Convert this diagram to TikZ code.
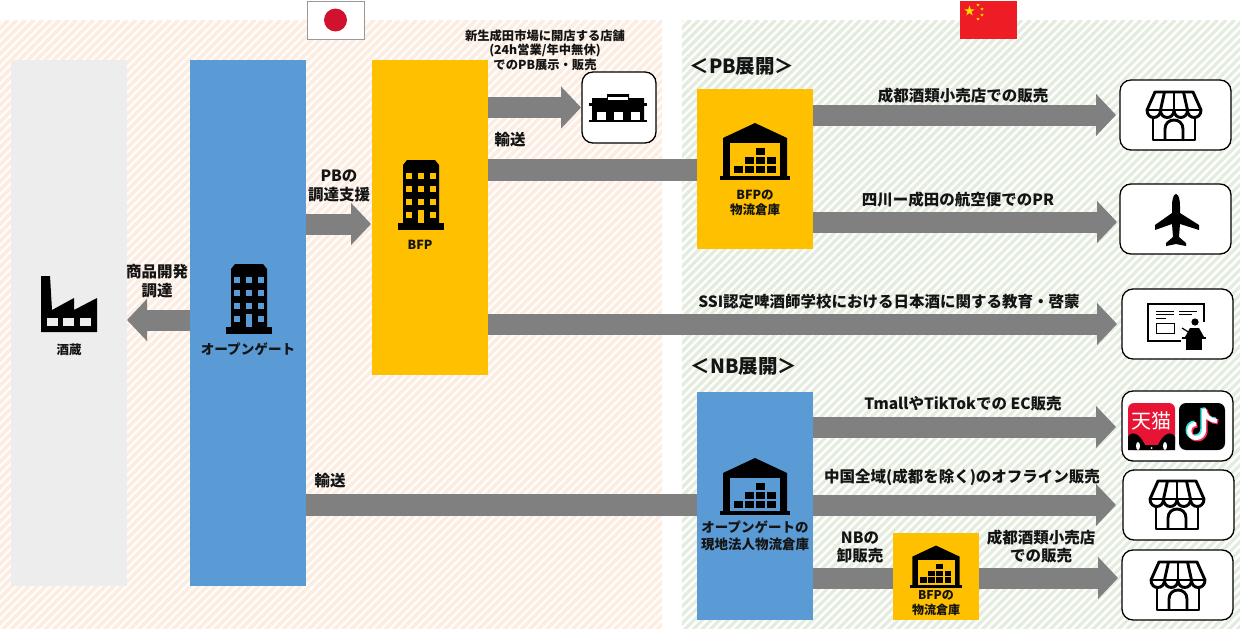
\documentclass[tikz,border=0pt]{standalone}
\usepackage{fontspec}
\setmainfont{Noto Sans CJK JP}
\usepackage{tikz}
\usetikzlibrary{shapes,arrows.meta}
\definecolor{peachline}{RGB}{252,236,226}
\definecolor{peachback}{RGB}{255,253,250}
\definecolor{greenline}{RGB}{228,236,224}
\definecolor{greenback}{RGB}{254,255,253}
\definecolor{flowgray}{RGB}{128,128,128}
\definecolor{breweryback}{RGB}{237,237,237}
\definecolor{gateblue}{RGB}{91,155,213}
\definecolor{bfpyellow}{RGB}{255,192,0}
\definecolor{tmallred}{RGB}{232,20,52}
\definecolor{flagred}{RGB}{238,28,37}
\definecolor{staryellow}{RGB}{255,222,0}
\definecolor{tiktokcyan}{RGB}{60,225,230}
\definecolor{tiktokred}{RGB}{250,40,85}
\definecolor{inkblack}{RGB}{20,20,20}
\tikzset{
  block/.style={draw=none,inner sep=0pt,outer sep=0pt},
  iconbox/.style={draw=black,fill=white,line width=1.3pt,rounded corners=11pt,inner sep=0pt,outer sep=0pt},
  labmid/.style={text=inkblack,align=center,inner sep=0pt,font=\fontsize{15.5}{19}\selectfont\bfseries},
  labsmall/.style={text=inkblack,align=center,inner sep=0pt,font=\fontsize{12.5}{15}\selectfont\bfseries},
  labhead/.style={text=inkblack,align=center,inner sep=0pt,font=\fontsize{19.5}{22}\selectfont\bfseries},
  flow/.style={draw=flowgray,line width=21pt,-{Triangle[length=20pt,width=41pt]}},
  flowbar/.style={draw=flowgray,line width=22pt},
  pics/officeicon/.style={code={
    \fill[black] (-23,28) rectangle (23,35);
    \fill[black] (-18,29) -- (-18,-30) -- (-14,-35) -- (14,-35) -- (18,-30) -- (18,29) -- cycle;
    \foreach \wx in {-12,0,12} \foreach \wy in {-19,-6,7} \fill[#1] (\wx-3,\wy-3) rectangle (\wx+3,\wy+3);
    \fill[#1] (-15,17) rectangle (-9,23);
    \fill[#1] (9,17) rectangle (15,23);
    \fill[#1] (-3,15) rectangle (3,28);
  }},
  pics/warehouseicon/.style={code={
    \fill[black] (-35,24) rectangle (35,28);
    \fill[black] (-32,25) -- (-32,-14) -- (0,-29) -- (32,-14) -- (32,25) -- cycle;
    \fill[#1] (-25,-9) rectangle (25,24);
    \foreach \bx in {-17,-6,5,16} \fill[black] (\bx-4.5,14) rectangle (\bx+4.5,21);
    \foreach \bx in {-6,5,16} \fill[black] (\bx-4.5,5) rectangle (\bx+4.5,12);
    \fill[black] (0.5,-4) rectangle (9.5,3);
  }},
  pics/storeicon/.style={code={
    \draw[line width=2.9pt,line join=round] (-21,0) -- (-21,24) -- (21,24) -- (21,0);
    \draw[line width=2.9pt,line join=round] (-9,24) -- (-9,13) .. controls (-9,1) and (9,1) .. (9,13) -- (9,24);
    \draw[line width=2.9pt,line join=round,fill=white] (-19,-24) -- (19,-24) -- (27,-6) .. controls (27,4) and (13.5,4) .. (13.5,-6) .. controls (13.5,4) and (0,4) .. (0,-6) .. controls (0,4) and (-13.5,4) .. (-13.5,-6) .. controls (-13.5,4) and (-27,4) .. (-27,-6) -- cycle;
    \draw[line width=2.9pt] (-9.5,-24) -- (-13.5,-6);
    \draw[line width=2.9pt] (0,-24) -- (0,-6);
    \draw[line width=2.9pt] (9.5,-24) -- (13.5,-6);
    \draw[line width=2.9pt] (-27,-6) -- (27,-6);
  }}
}
\begin{document}
\begin{tikzpicture}[x=1pt,y=-1pt]
\useasboundingbox (0,0) rectangle (1240,629);
\fill[peachback] (0,20) rectangle (662,629);
\fill[greenback] (682,20) rectangle (1240,629);
\begin{scope}
\clip (0,20) rectangle (662,629);
\foreach \s in {0,8.5,...,1300} \draw[peachline,line width=3.2pt] (\s,20) -- ++(-620,620);
\end{scope}
\begin{scope}
\clip (682,20) rectangle (1240,629);
\foreach \s in {682,690.5,...,1900} \draw[greenline,line width=3.2pt] (\s,20) -- ++(-620,620);
\end{scope}

\node[block,fill=breweryback,minimum width=116pt,minimum height=526pt] (brewery) at (69,323) {};
\node[block,fill=gateblue,minimum width=116pt,minimum height=526pt] (opengate) at (248,323) {};
\node[block,fill=bfpyellow,minimum width=116pt,minimum height=315pt] (bfp) at (430,217.5) {};
\node[block,fill=bfpyellow,minimum width=116pt,minimum height=160pt] (bfpwh) at (755,169) {};
\node[block,fill=gateblue,minimum width=116pt,minimum height=228pt] (gatewh) at (755,506) {};
\node[block,fill=bfpyellow,minimum width=86pt,minimum height=87pt] (bfpwhsub) at (936,576.5) {};

\node[iconbox,minimum width=74pt,minimum height=71pt] (market) at (619,107.5) {};
\node[iconbox,minimum width=111pt,minimum height=70pt] (storea) at (1175.5,115) {};
\node[iconbox,minimum width=111pt,minimum height=70pt] (plane) at (1175.5,219) {};
\node[iconbox,minimum width=111pt,minimum height=70pt] (school) at (1177.5,324) {};
\node[iconbox,minimum width=111pt,minimum height=70pt] (apps) at (1177.5,426) {};
\node[iconbox,minimum width=111pt,minimum height=70pt] (storeb) at (1178.5,505) {};
\node[iconbox,minimum width=111pt,minimum height=70pt] (storec) at (1177.5,585) {};

\node[block,draw=gray!80,line width=.8pt,fill=white,minimum width=57pt,minimum height=38pt] (japan) at (335.5,20) {};
\node[block,fill=flagred,minimum width=57pt,minimum height=38pt] (china) at (988.5,20) {};
\fill[tmallred!90!black] (japan.center) circle [radius=11.5];
\node[star,star points=5,star point ratio=2.6,fill=staryellow,inner sep=0pt,minimum size=11pt] (starbig) at (969.5,11) {};
\node[star,star points=5,star point ratio=2.6,fill=staryellow,inner sep=0pt,minimum size=3.5pt] (stara) at (978,5) {};
\node[star,star points=5,star point ratio=2.6,fill=staryellow,inner sep=0pt,minimum size=3.5pt] (starb) at (982,9) {};
\node[star,star points=5,star point ratio=2.6,fill=staryellow,inner sep=0pt,minimum size=3.5pt] (starc) at (982,15) {};
\node[star,star points=5,star point ratio=2.6,fill=staryellow,inner sep=0pt,minimum size=3.5pt] (stard) at (978,19) {};

\draw[flow] (opengate.west |- 0,320) -- (brewery.east |- 0,320);
\draw[flow,shorten >=1pt] (opengate.east |- 0,224) -- (bfp.west |- 0,224);
\draw[flow,shorten >=1pt] (bfp.east |- market.west) -- (market.west);
\draw[flowbar] (bfp.east |- 0,170) -- (bfpwh.west |- 0,170);
\draw[flow,shorten >=4pt] (bfpwh.east |- storea.west) -- (storea.west);
\draw[flow,shorten >=3pt] (bfpwh.east |- 0,222) -- (plane.west |- 0,222);
\draw[flow,shorten >=5pt] (bfp.east |- school.west) -- (school.west);
\draw[flow,shorten >=6pt] (gatewh.east |- 0,427) -- (apps.west |- 0,427);
\draw[flowbar] (opengate.east |- 0,505) -- (gatewh.west |- 0,505);
\draw[flow,shorten >=7pt] (gatewh.east |- storeb.west) -- (storeb.west);
\draw[flow,draw=flowgray,-] (gatewh.east |- 0,578) -- (bfpwhsub.west |- 0,578);
\draw[flow,shorten >=4pt] (bfpwhsub.east |- 0,578) -- (storec.west |- 0,578);

\pic at (249,299) {officeicon={gateblue}};
\pic at (421,195) {officeicon={bfpyellow}};
\pic at (755,152) {warehouseicon={bfpyellow}};
\pic at (755,487) {warehouseicon={gateblue}};
\pic[scale=.74] at (936,567) {warehouseicon={bfpyellow}};
\pic at (1174,116) {storeicon};
\pic at (1177,505) {storeicon};
\pic at (1178,586) {storeicon};

\fill[black] (41,332) -- (41,276) -- (50,276) -- (52,310) -- (74,298) -- (74,310) -- (97,298) -- (97,332) -- cycle;
\foreach \wx in {52,68,85} \fill[breweryback] (\wx-5.5,318) rectangle (\wx+5.5,326);

\fill[black] (589,120) rectangle (647,122);
\fill[black] (592,120) -- (592,98) -- (607,98) -- (607,94) -- (629,94) -- (629,98) -- (644,98) -- (644,120) -- cycle;
\fill[black] (589,103) rectangle (647,106);
\fill[white] (608,97) rectangle (628,100);
\foreach \wx in {601,618,635} \fill[white] (\wx-4.5,112) rectangle (\wx+4.5,120);

\fill[black] (1176,194) .. controls (1179,194) and (1180,201) .. (1180,206) -- (1180,213) -- (1199,225) -- (1199,230) -- (1180,224) -- (1179,237) -- (1186,243) -- (1186,246) -- (1176,244) -- (1166,246) -- (1166,243) -- (1173,237) -- (1172,224) -- (1155,230) -- (1155,225) -- (1172,213) -- (1172,206) .. controls (1172,201) and (1173,194) .. (1176,194) -- cycle;

\draw[line width=1.6pt] (1204,322) -- (1204,304) -- (1148,304) -- (1148,341) -- (1181,341);
\foreach \lx/\ly/\lw in {1156/311/18,1156/314/18,1156/318/10,1179/311/18,1179/314/13} \draw[line width=1pt] (\lx,\ly) -- ++(\lw,0);
\draw[line width=1pt] (1156,323) rectangle (1174,333);
\fill[black] (1195,322) circle [radius=3.6];
\fill[black] (1185,337) -- (1190,328) -- (1199,328) -- (1204,337) -- cycle;
\draw[line width=1.2pt] (1182,328) -- (1190,333);
\fill[black] (1182,337) rectangle (1206,339);
\fill[black] (1186,339) rectangle (1202,350);

\fill[tmallred,rounded corners=6pt] (1128,403) rectangle (1175,450);
\fill[black] (1128,450) -- (1128,437) .. controls (1131,431) and (1139,432) .. (1145,445) -- (1158,445) .. controls (1164,432) and (1172,431) .. (1175,437) -- (1175,450) -- cycle;
\fill[white] (1138,446) ellipse [x radius=2,y radius=4];
\fill[white] (1165,446) ellipse [x radius=2,y radius=4];
\fill[white] (1151.5,448) circle [radius=1];
\node[inner sep=0pt,text=white,font=\fontsize{20}{22}\selectfont] (tmalltext) at (1151.5,421) {天猫};
\fill[black,rounded corners=7pt] (1179,403) rectangle (1225,450);
\draw[tiktokcyan,line width=5pt,line join=bevel,xshift=-1.2pt,yshift=1pt] (1196,424) .. controls (1187,424) and (1187,438) .. (1196,438) .. controls (1201,438) and (1204,434) .. (1204,430) -- (1204,409) .. controls (1205,416) and (1210,421) .. (1217,421);
\draw[tiktokred,line width=5pt,line join=bevel,xshift=1.2pt,yshift=-1pt] (1196,424) .. controls (1187,424) and (1187,438) .. (1196,438) .. controls (1201,438) and (1204,434) .. (1204,430) -- (1204,409) .. controls (1205,416) and (1210,421) .. (1217,421);
\draw[white,line width=4.2pt,line join=bevel] (1196,424) .. controls (1187,424) and (1187,438) .. (1196,438) .. controls (1201,438) and (1204,434) .. (1204,430) -- (1204,409) .. controls (1205,416) and (1210,421) .. (1217,421);

\node[labsmall] (brewerylab) at (69,350) {酒蔵};
\node[labsmall,font=\fontsize{13.6}{15}\selectfont\bfseries] (gatelab) at (248,349) {オープンゲート};
\node[labsmall] (bfplab) at (420,245) {BFP};
\node[labsmall] (bfpwhlab) at (755,203) {BFPの\\物流倉庫};
\node[labsmall,font=\fontsize{13.5}{17}\selectfont\bfseries] (gatewhlab) at (755,536) {オープンゲートの\\現地法人物流倉庫};
\node[labsmall,font=\fontsize{12}{14.5}\selectfont\bfseries] (bfpwhsublab) at (936,603) {BFPの\\物流倉庫};
\node[labsmall,font=\fontsize{12.3}{14.5}\selectfont\bfseries] (marketlab) at (545,50) {新生成田市場に開店する店舗\\(24h営業/年中無休)\\でのPB展示・販売};
\node[labmid] (shipa) at (510,140) {輸送};
\node[labmid] (shipb) at (330,481) {輸送};
\node[labmid] (pbsupport) at (339,186) {PBの\\調達支援};
\node[labmid] (develop) at (157,281) {商品開発\\調達};
\node[labhead] (pbhead) at (742,66) {＜PB展開＞};
\node[labhead] (nbhead) at (744,366) {＜NB展開＞};
\node[labmid] (storealab) at (963,96) {成都酒類小売店での販売};
\node[labmid] (planelab) at (958,200) {四川ー成田の航空便でのPR};
\node[labmid] (schoollab) at (889,302) {SSI認定啤酒師学校における日本酒に関する教育・啓蒙};
\node[labmid] (appslab) at (963,404) {TmallやTikTokでの EC販売};
\node[labmid] (storeblab) at (962,477) {中国全域(成都を除く)のオフライン販売};
\node[labmid,font=\fontsize{15.5}{18}\selectfont\bfseries] (nblab) at (860,547) {NBの\\卸販売};
\node[labmid,font=\fontsize{15.5}{18}\selectfont\bfseries] (storeclab) at (1041,547) {成都酒類小売店\\での販売};
\end{tikzpicture}
\end{document}
